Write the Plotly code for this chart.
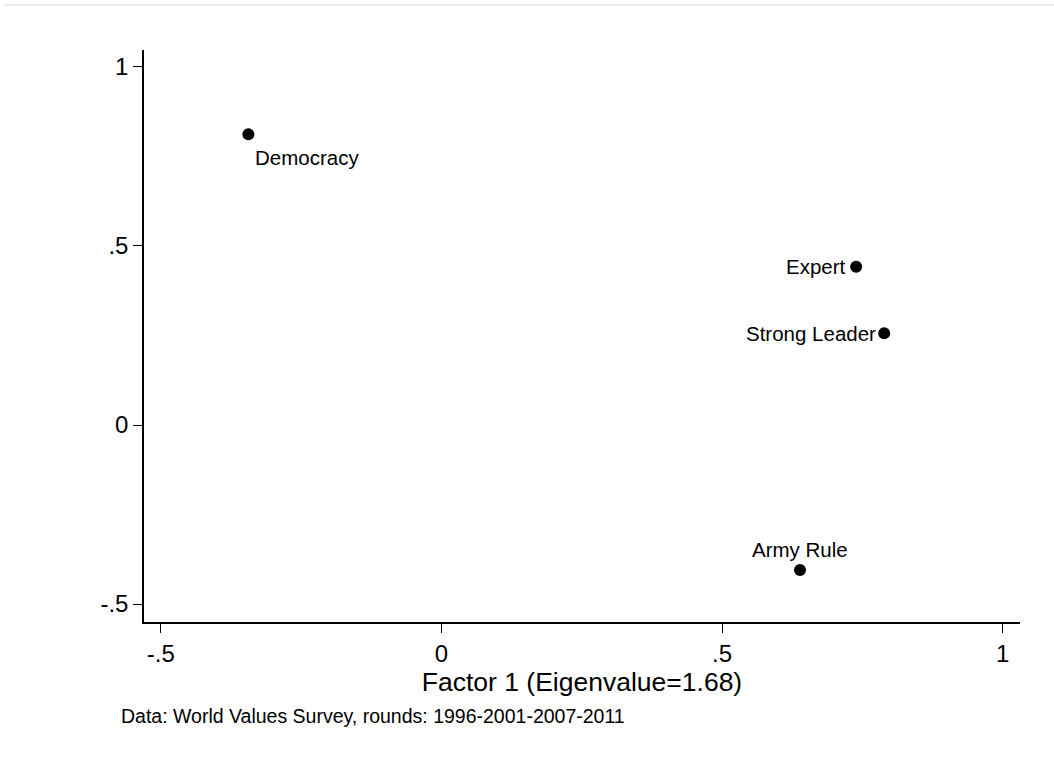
import plotly.graph_objects as go

# Data (factor loadings)
labels = ["Democracy", "Expert", "Strong Leader", "Army Rule"]
factor1 = [-0.344, 0.739, 0.789, 0.639]
factor2 = [0.812, 0.442, 0.256, -0.405]

x_ticks = [-0.5, 0, 0.5, 1]
x_ticktext = ["-.5", "0", ".5", "1"]
y_ticks = [-0.5, 0, 0.5, 1]
y_ticktext = ["-.5", "0", ".5", "1"]

FONT = "Liberation Sans, Arial, Helvetica, sans-serif"

fig = go.Figure()
fig.add_trace(go.Scatter(
    x=factor1, y=factor2, mode="markers",
    marker=dict(color="black", size=12, line=dict(width=0)),
    hoverinfo="text", text=labels, showlegend=False,
))

# label placement per point: (xanchor, yanchor, xshift, yshift)
placement = {
    "Democracy": ("left", "middle", 5, -23),
    "Expert": ("right", "middle", -8, 0),
    "Strong Leader": ("right", "middle", -6, 0),
    "Army Rule": ("center", "middle", 0, 21),
}
for lab, xv, yv in zip(labels, factor1, factor2):
    xa, ya, xs, ys = placement[lab]
    fig.add_annotation(x=xv, y=yv, text=lab, showarrow=False,
                       xanchor=xa, yanchor=ya, xshift=xs, yshift=ys,
                       font=dict(family=FONT, size=20.5, color="black"))

fig.add_annotation(xref="paper", yref="paper", x=-0.0285, y=-0.164,
                   xanchor="left", yanchor="middle", showarrow=False,
                   text="Data: World Values Survey, rounds: 1996-2001-2007-2011",
                   font=dict(family=FONT, size=19.5, color="black"))

# faint top border line
fig.add_shape(type="line", xref="paper", yref="paper",
              x0=-0.16, x1=1.04, y0=1.0787, y1=1.0787,
              line=dict(color="#e9eef3", width=2))

fig.update_layout(
    width=1054, height=770,
    margin=dict(l=144, r=34, t=50, b=148),
    paper_bgcolor="white", plot_bgcolor="white",
    font=dict(family=FONT, color="black"),
    xaxis=dict(
        range=[-0.530, 1.031], tickvals=x_ticks, ticktext=x_ticktext,
        showgrid=False, zeroline=False, showline=True, linecolor="black",
        linewidth=1.5, ticks="outside", ticklen=9, tickwidth=1.2,
        tickcolor="black", tickfont=dict(size=24, family=FONT),
        title=dict(text="Factor 1 (Eigenvalue=1.68)", standoff=0,
                   font=dict(size=26.5, family=FONT)),
    ),
    yaxis=dict(
        range=[-0.550, 1.047], tickvals=y_ticks, ticktext=y_ticktext,
        showgrid=False, zeroline=False, showline=True, linecolor="black",
        linewidth=1.5, ticks="outside", ticklen=9, tickwidth=1.2,
        tickcolor="black", tickfont=dict(size=24, family=FONT),
    ),
)

fig.write_html("out.html", config={"displayModeBar": False},
               post_script="document.body.style.margin='0';")
